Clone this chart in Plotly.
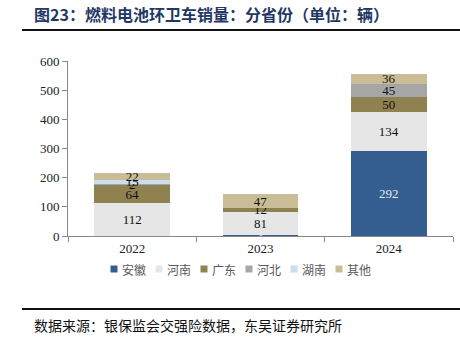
import plotly.graph_objects as go

years = ["2022", "2023", "2024"]
series_names = ["安徽", "河南", "广东", "河北", "湖南", "其他"]
anhui = [0, 3, 292]
henan = [112, 81, 134]
guangdong = [64, 12, 50]
hebei = [2, 0, 45]
hunan = [15, 0, 0]
others = [22, 47, 36]

colors = ["#345E90", "#E6E6E6", "#8F8150", "#A6A6A6", "#CCDDEB", "#C8BD96"]
label_colors = ["#E8E8E8", "#111111", "#111111", "#111111", "#111111", "#111111"]
values = [anhui, henan, guangdong, hebei, hunan, others]

W, H = 460, 346
L, R, T, B = 68, 7, 61, 110
PW, PH = W - L - R, H - T - B


def px(x):
    return (x - L) / PW


def py(y):
    return (H - B - y) / PH


fig = go.Figure()
for name, vals, c, lc in zip(series_names, values, colors, label_colors):
    fig.add_trace(go.Bar(
        x=years, y=vals, name=name, marker=dict(color=c, line=dict(width=0)),
        text=[str(v) if v > 0 else "" for v in vals],
        textposition="inside", insidetextanchor="middle", textangle=0,
        textfont=dict(family="Liberation Serif", size=13, color=lc),
        constraintext="none", cliponaxis=False, showlegend=False,
    ))

fig.update_layout(
    barmode="stack", bargap=0.41,
    width=W, height=H,
    margin=dict(l=L, r=R, t=T, b=B),
    plot_bgcolor="white", paper_bgcolor="white",
    uniformtext=dict(minsize=8, mode="show"),
    showlegend=False,
    xaxis=dict(type="category", showline=True, linecolor="#888888", linewidth=1,
               ticks="outside", tickson="boundaries", ticklen=5, tickcolor="#888888",
               tickfont=dict(family="Liberation Serif", size=13, color="#222222"),
               showgrid=False),
    yaxis=dict(range=[0, 600], dtick=100, showline=True, linecolor="#888888", linewidth=1,
               ticks="outside", ticklen=5, tickcolor="#888888", showgrid=False,
               zeroline=False,
               tickfont=dict(family="Liberation Serif", size=13, color="#222222")),
)

# legend (manual, compact like the reference)
leg_y = 269
for i, (name, c) in enumerate(zip(series_names, colors)):
    cx = 114 + 45 * i
    fig.add_shape(type="rect", xref="paper", yref="paper",
                  x0=px(cx - 3.5), x1=px(cx + 3.5), y0=py(leg_y + 3.5), y1=py(leg_y - 3.5),
                  fillcolor=c, line=dict(width=0))
    fig.add_annotation(text=name, xref="paper", yref="paper", x=px(cx + 6), y=py(leg_y),
                       xanchor="left", yanchor="middle", showarrow=False,
                       font=dict(family="Noto Sans CJK SC", size=12, color="#595959"))

fig.add_annotation(text="<b>图23：燃料电池环卫车销量：分省份（单位：辆）</b>",
                   xref="paper", yref="paper", x=px(32), y=py(14), yanchor="middle",
                   xanchor="left", showarrow=False,
                   font=dict(family="Noto Sans CJK SC", size=16, color="#1F3864"))
fig.add_annotation(text="数据来源：银保监会交强险数据，东吴证券研究所",
                   xref="paper", yref="paper", x=px(32), y=py(325), yanchor="middle",
                   xanchor="left", showarrow=False,
                   font=dict(family="Noto Sans CJK SC", size=14, color="#111111"))
fig.add_shape(type="line", xref="paper", yref="paper", x0=px(22), x1=px(460), y0=py(30), y1=py(30),
              line=dict(color="#111111", width=2))
fig.add_shape(type="line", xref="paper", yref="paper", x0=px(22), x1=px(460), y0=py(309), y1=py(309),
              line=dict(color="#111111", width=2))
fig.write_html("out.html")
